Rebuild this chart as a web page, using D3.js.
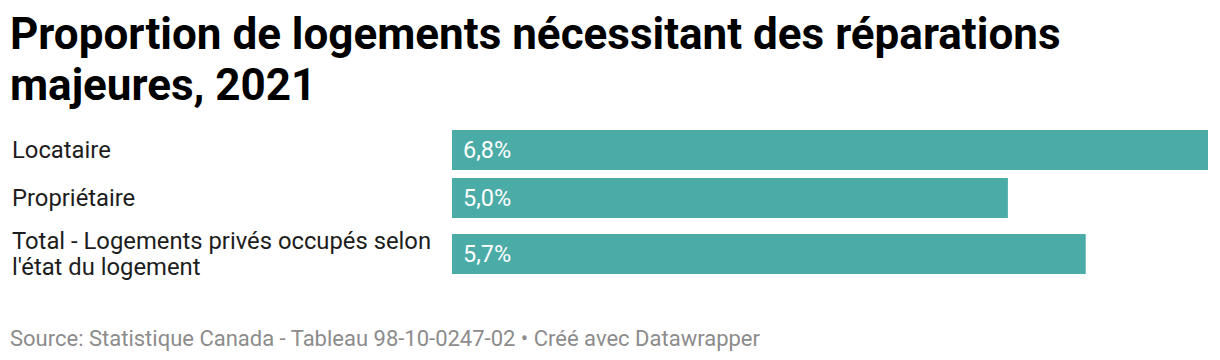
<!DOCTYPE html>
<html><head><meta charset="utf-8">
<script src="https://cdn.jsdelivr.net/npm/d3@7"></script>
<style>
html,body{margin:0;padding:0;background:#fff;}
svg{display:block;font-family:Roboto,"Noto Sans",sans-serif;}
</style></head>
<body><svg id="c" width="1220" height="360"></svg>
<script>
const categories = ["Locataire", "Propriétaire", "Total - Logements privés occupés selon l'état du logement"];
const labelLines = [["Locataire"], ["Propriétaire"], ["Total - Logements privés occupés selon", "l'état du logement"]];
const values = [6.8, 5.0, 5.7];
const valueLabels = ["6,8%", "5,0%", "5,7%"];
const titleLines = ["Proportion de logements nécessitant des réparations", "majeures, 2021"];
const footer = "Source: Statistique Canada - Tableau 98-10-0247-02 • Créé avec Datawrapper";

const svg = d3.select("#c");
const barLeft = 452, barRight = 1208, barH = 40, gap = 8, lineH = 26, top0 = 130;
const color = "#4aaba7";

const x = d3.scaleLinear().domain([0, d3.max(values)]).range([barLeft, barRight]);

// title
svg.append("g").selectAll("text").data(titleLines).join("text")
  .attr("x", 10).attr("y", (d, i) => 49 + i * 51)
  .attr("font-size", 44).attr("font-weight", 700).attr("fill", "#000")
  .text(d => d);

// row layout
const rows = [];
let yCur = top0;
categories.forEach((c, i) => {
  const h = Math.max(barH, labelLines[i].length * lineH + 4);
  const barY = yCur + (h - barH) / 2;
  rows.push({c, v: values[i], lab: valueLabels[i], lines: labelLines[i], rowY: yCur, h, barY});
  yCur += h + gap;
});

const g = svg.append("g");
const row = g.selectAll("g.row").data(rows).join("g").attr("class", "row");

row.append("rect")
  .attr("x", x(0)).attr("y", d => d.barY)
  .attr("width", d => x(d.v) - x(0)).attr("height", barH)
  .attr("fill", color);

row.append("text")
  .attr("x", x(0) + 11).attr("y", d => d.barY + barH / 2 + 8)
  .attr("font-size", 23.5).attr("fill", "#fff")
  .text(d => d.lab);

row.each(function(d) {
  const cy = d.barY + barH / 2;
  const n = d.lines.length;
  d3.select(this).selectAll("text.lbl").data(d.lines).join("text").attr("class", "lbl")
    .attr("x", 12)
    .attr("y", (t, j) => cy + 8 + (j - (n - 1) / 2) * lineH)
    .attr("font-size", 23.8).attr("fill", "#1d1d1d")
    .text(t => t);
});

svg.append("text").attr("x", 10).attr("y", 346)
  .attr("font-size", 22).attr("fill", "#8c8c8c")
  .text(footer);
</script></body></html>
